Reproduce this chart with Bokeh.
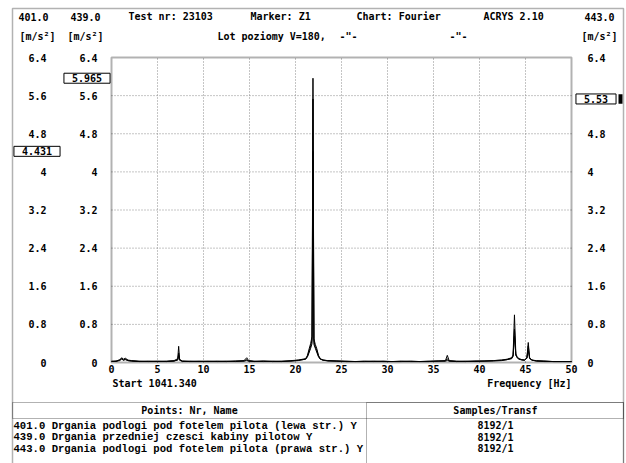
from bokeh.plotting import figure
from bokeh.models import (Range1d, LinearAxis, FixedTicker, Label, BoxAnnotation,
                          NumeralTickFormatter)
from bokeh.embed import file_html
from bokeh.resources import INLINE

# ---------------- data ----------------
freq = [0.0, 0.5, 0.9, 1.1, 1.3, 1.5, 1.8, 2.2, 3.0, 4.0, 5.0, 6.0, 6.8,
        7.2, 7.3, 7.4,
        7.7, 8.5, 9.5, 10.5, 11.5, 12.5, 13.5, 14.4,
        14.7, 14.9,
        15.5, 16.5, 17.5, 18.5, 19.5, 20.3, 20.8,
        21.1, 21.3, 21.5, 21.65, 21.8, 21.9, 22.0, 22.15, 22.3, 22.5, 22.7, 23.0,
        23.5, 24.5, 25.5, 26.5, 27.5, 28.5, 29.5, 30.5, 31.5, 32.5, 33.5, 34.5, 35.5, 36.3,
        36.5, 36.7,
        37.5, 38.5, 39.5, 40.5, 41.5, 42.4, 43.0, 43.5,
        43.65, 43.8, 43.95, 44.1, 44.3, 44.6, 44.9,
        45.15, 45.3, 45.45, 45.7,
        46.2, 47.0, 48.0, 49.0, 50.0]

ch401 = [0.02, 0.03, 0.06, 0.08, 0.05, 0.07, 0.04, 0.03, 0.02, 0.02, 0.03, 0.02, 0.03,
         0.06, 0.15, 0.05,
         0.03, 0.02, 0.02, 0.03, 0.02, 0.02, 0.03, 0.03,
         0.04, 0.03,
         0.02, 0.03, 0.02, 0.03, 0.03, 0.04, 0.06,
         0.07, 0.12, 0.22, 0.30, 0.40, 4.431, 0.38, 0.30, 0.22, 0.12, 0.07, 0.05,
         0.04, 0.03, 0.02, 0.02, 0.03, 0.02, 0.02, 0.02, 0.03, 0.02, 0.02, 0.02, 0.03, 0.03,
         0.04, 0.03,
         0.02, 0.02, 0.03, 0.03, 0.04, 0.05, 0.07, 0.10,
         0.16, 1.00, 0.18, 0.12, 0.08, 0.06, 0.05,
         0.10, 0.35, 0.09, 0.05,
         0.04, 0.03, 0.02, 0.02, 0.02]

ch439 = [0.03, 0.02, 0.05, 0.10, 0.07, 0.09, 0.05, 0.04, 0.03, 0.02, 0.02, 0.03, 0.04,
         0.08, 0.34, 0.07,
         0.03, 0.02, 0.03, 0.02, 0.03, 0.02, 0.03, 0.04,
         0.10, 0.04,
         0.03, 0.02, 0.03, 0.02, 0.03, 0.05, 0.07,
         0.08, 0.15, 0.30, 0.40, 0.55, 5.965, 0.50, 0.38, 0.30, 0.15, 0.08, 0.05,
         0.04, 0.03, 0.03, 0.02, 0.02, 0.03, 0.02, 0.02, 0.02, 0.03, 0.02, 0.03, 0.03, 0.04,
         0.15, 0.04,
         0.03, 0.02, 0.03, 0.03, 0.04, 0.05, 0.06, 0.09,
         0.14, 0.70, 0.16, 0.10, 0.07, 0.06, 0.05,
         0.09, 0.25, 0.08, 0.05,
         0.03, 0.03, 0.02, 0.02, 0.02]

ch443 = [0.02, 0.03, 0.04, 0.07, 0.05, 0.06, 0.04, 0.03, 0.02, 0.03, 0.02, 0.02, 0.03,
         0.05, 0.20, 0.05,
         0.02, 0.03, 0.02, 0.02, 0.02, 0.03, 0.02, 0.03,
         0.06, 0.03,
         0.02, 0.03, 0.02, 0.02, 0.04, 0.05, 0.06,
         0.07, 0.13, 0.25, 0.35, 0.48, 5.53, 0.45, 0.33, 0.26, 0.13, 0.07, 0.05,
         0.03, 0.03, 0.02, 0.02, 0.02, 0.02, 0.03, 0.02, 0.02, 0.02, 0.02, 0.02, 0.03, 0.03,
         0.08, 0.03,
         0.02, 0.03, 0.02, 0.03, 0.03, 0.04, 0.06, 0.08,
         0.13, 0.55, 0.15, 0.10, 0.07, 0.05, 0.05,
         0.09, 0.42, 0.10, 0.05,
         0.03, 0.02, 0.02, 0.02, 0.02]

y_ticks = [0, 0.8, 1.6, 2.4, 3.2, 4, 4.8, 5.6, 6.4]
x_ticks = [0, 5, 10, 15, 20, 25, 30, 35, 40, 45, 50]
x_min, x_max = 0, 50
y_min, y_max = 0, 6.4

channels = ["401.0", "439.0", "443.0"]
unit = "[m/s²]"
header_items = ["Test nr: 23103", "Marker: Z1", "Chart: Fourier", "ACRYS 2.10"]
subtitle_items = ["Lot poziomy V=180,", '-"-', '-"-']
table_header = ["Points: Nr, Name", "Samples/Transf"]
table_rows = ["401.0 Drgania podlogi pod fotelem pilota (lewa str.)  Y",
              "439.0 Drgania przedniej czesci kabiny pilotow Y",
              "443.0 Drgania podlogi pod fotelem pilota (prawa str.) Y"]
table_samples = ["8192/1", "8192/1", "8192/1"]
start_text = "Start 1041.340"
x_title = "Frequency [Hz]"

# ---------------- layout (pixels) ----------------
W, H = 626, 463
FL, FR, FT, FB = 111, 571, 57, 362   # chart area inside the canvas
FONT = "DejaVu Sans Mono"
FS = "10px"

kx = (FR - FL) / (x_max - x_min)
ky = (FB - FT) / (y_max - y_min)
x_range = Range1d(x_min - FL / kx, x_max + (W - FR) / kx)
y_range = Range1d(y_min - (H - FB) / ky, y_max + FT / ky)

p = figure(width=W, height=H, x_range=x_range, y_range=y_range, title=None,
           x_axis_type=None, y_axis_type=None, output_backend="svg",
           toolbar_location=None, min_border=0, min_border_left=0,
           min_border_right=0, min_border_top=0, min_border_bottom=0)
p.background_fill_color = "white"
p.border_fill_color = "white"
p.outline_line_color = None
p.xgrid.visible = False
p.ygrid.visible = False

# dotted grid inside the chart area
gx = x_ticks[1:-1]
gy = y_ticks[1:-1]
p.segment(x0=gx, y0=[y_min] * len(gx), x1=gx, y1=[y_max] * len(gx),
          line_color="#8a8a8a", line_width=1, line_dash="1 2")
p.segment(x0=[x_min] * len(gy), y0=gy, x1=[x_max] * len(gy), y1=gy,
          line_color="#8a8a8a", line_width=1, line_dash="1 2")


def style_axis(ax, standoff):
    ax.axis_line_color = None
    ax.major_tick_line_color = None
    ax.minor_tick_line_color = None
    ax.major_tick_out = 0
    ax.major_tick_in = 0
    ax.major_label_standoff = standoff
    ax.major_label_text_font = FONT
    ax.major_label_text_font_style = "bold"
    ax.major_label_text_font_size = FS
    ax.major_label_text_color = "black"


xax = LinearAxis(ticker=FixedTicker(ticks=x_ticks), fixed_location=y_min)
style_axis(xax, 2)
p.add_layout(xax, "below")

fmt = NumeralTickFormatter(format="0.[0]")
y2 = LinearAxis(ticker=FixedTicker(ticks=y_ticks), formatter=fmt, fixed_location=x_min)
style_axis(y2, 14)
p.add_layout(y2, "left")
y1 = LinearAxis(ticker=FixedTicker(ticks=y_ticks), formatter=fmt, fixed_location=x_min)
style_axis(y1, 65)
p.add_layout(y1, "left")
y3 = LinearAxis(ticker=FixedTicker(ticks=y_ticks), formatter=fmt, fixed_location=x_max)
style_axis(y3, 16)
y3.major_label_overrides = {5.6: ""}   # hidden behind the marker box in the original
p.add_layout(y3, "right")

# spectra
for ch in (ch401, ch443, ch439):
    p.line(freq, ch, line_color="black", line_width=1)

# chart frame
p.add_layout(BoxAnnotation(left=x_min, right=x_max, bottom=y_min, top=y_max,
                           fill_color=None, line_color="black", line_width=2))


def lab(text, X, Y, align="left", font=FONT, size=FS):
    p.add_layout(Label(x=X, y=H - Y, x_units="screen", y_units="screen",
                       text=text, text_font=font, text_font_size=size,
                       text_font_style="bold", text_color="black",
                       text_align=align, text_baseline="middle"))


def box(X0, X1, Y0, Y1, width=1.0):
    p.add_layout(BoxAnnotation(left=X0, right=X1, top=H - Y0, bottom=H - Y1,
                               left_units="screen", right_units="screen",
                               top_units="screen", bottom_units="screen",
                               fill_color=None, line_color="black", line_width=width))


# header rows
lab(channels[0], 33, 16, "center")
lab(channels[1], 85, 16, "center")
lab(channels[2], 599, 16, "center")
for t, X in zip(header_items, [128, 250, 356, 483]):
    lab(t, X, 16)
lab(unit, 37, 36, "center")
lab(unit, 85, 36, "center")
lab(unit, 599, 36, "center")
for t, X in zip(subtitle_items, [217, 339, 449]):
    lab(t, X, 36)

# x-axis extra texts
lab(start_text, 112, 383)
lab(x_title, 571, 383, "right")

# marker boxes (max values of each channel)
for ch, X in zip([ch401, ch439, ch443], [36.5, 86.5, 595.5]):
    m = max(ch)
    p.add_layout(Label(x=X, y=m, x_units="screen", y_units="data",
                       text=f"{m:g}", text_font=FONT, text_font_size=FS,
                       text_font_style="bold", text_color="black",
                       text_align="center", text_baseline="middle",
                       border_line_color="black", border_line_width=1,
                       background_fill_color="white", padding=(8, 1)))
m443 = max(ch443)
p.add_layout(BoxAnnotation(left=618, right=622, left_units="screen", right_units="screen",
                           bottom=m443 - 0.1, top=m443 + 0.1,
                           fill_color="black", fill_alpha=1, line_color=None))

# outer frame and table
box(12, 623, 8, 475, 1.5)
box(12, 623, 402, 418, 1.0)
box(366, 623, 402, 475, 1.0)
lab(table_header[0], 189, 410, "center")
lab(table_header[1], 495, 410, "center")
for i, (r, s) in enumerate(zip(table_rows, table_samples)):
    Y = 425 + 11.5 * i
    lab(r, 13, Y, "left", font="Liberation Mono", size="10.6px")
    lab(s, 495, Y, "center")

open("out.html", "w").write(file_html(p, INLINE))
